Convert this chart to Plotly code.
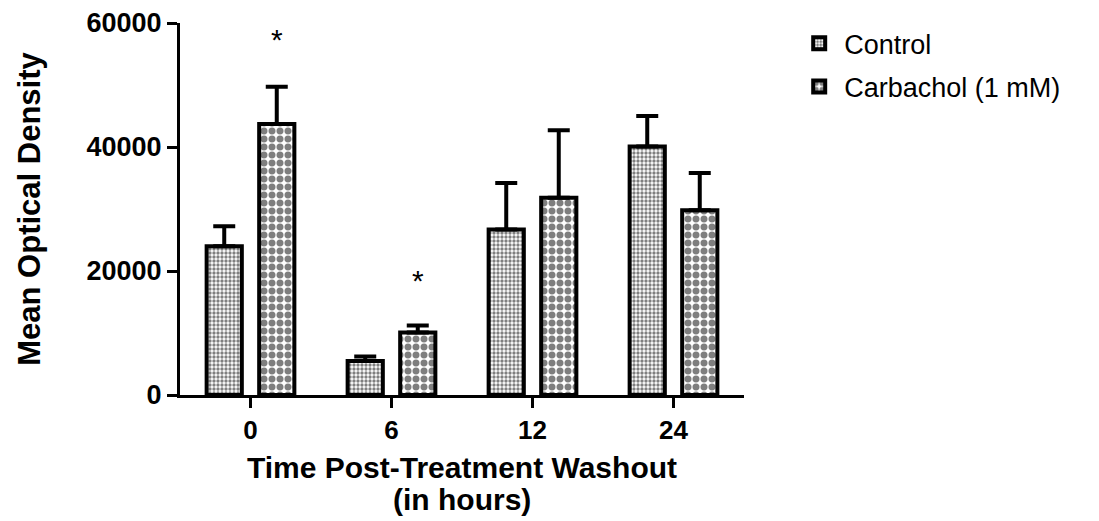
import plotly.graph_objects as go

# ---- data ----
time_labels = ["0", "6", "12", "24"]
control_mean = [24000, 5500, 26700, 40100]
control_sd = [3200, 700, 7500, 4900]
carbachol_mean = [43700, 10100, 31800, 29800]
carbachol_sd = [6000, 1100, 10900, 6000]
asterisk_y = [57300, 18400, None, None]   # significance markers over Carbachol bars
y_ticks = [0, 20000, 40000, 60000]

FONT = "Liberation Sans, Arial, sans-serif"

bargap = 0.255
bargroupgap = 0.33
slot = (1 - bargap) / 2

fig = go.Figure()
fig.add_trace(go.Bar(
    name="Control", x=time_labels, y=control_mean, legendgroup="ctrl",
    marker=dict(color="white", line=dict(color="black", width=4),
                pattern=dict(shape=".", size=4, solidity=0.55,
                             fgcolor="black", bgcolor="white")),
    error_y=dict(type="data", array=control_sd, arrayminus=[0]*4, symmetric=False,
                 color="black", thickness=4, width=11),
))
fig.add_trace(go.Bar(
    name="Carbachol (1 mM)", x=time_labels, y=carbachol_mean, legendgroup="carb",
    marker=dict(color="white", line=dict(color="black", width=4),
                pattern=dict(shape=".", size=8, solidity=0.6,
                             fgcolor="black", bgcolor="white")),
    error_y=dict(type="data", array=carbachol_sd, arrayminus=[0]*4, symmetric=False,
                 color="black", thickness=4, width=11),
))

for i, ay in enumerate(asterisk_y):
    if ay is None:
        continue
    fig.add_annotation(x=i + slot / 2, y=ay, text="*", showarrow=False,
                       xref="x", yref="y", yanchor="middle",
                       font=dict(family=FONT, size=30, color="black"))

# second line of the x-axis title
fig.add_annotation(x=0.5, y=-0.28, xref="paper", yref="paper", text="(in hours)",
                   showarrow=False, yanchor="middle", xanchor="center",
                   font=dict(family=FONT, size=30, weight="bold", color="black"))

fig.update_layout(
    width=1091, height=513,
    margin=dict(l=172, r=355, t=15, b=126, autoexpand=False),
    paper_bgcolor="white", plot_bgcolor="white",
    barmode="group", bargap=bargap, bargroupgap=bargroupgap,
    font=dict(family=FONT, color="black"),
    showlegend=True,
    legend=dict(x=1.089, y=1.01, xanchor="left", yanchor="top",
                font=dict(family=FONT, size=27, color="black"),
                bgcolor="rgba(0,0,0,0)", tracegroupgap=5, itemwidth=40),
)
fig.update_xaxes(
    type="category", range=[-0.5, 3.5], automargin=False,
    showline=True, linecolor="black", linewidth=3,
    ticks="outside", ticklen=10, tickwidth=3, tickcolor="black",
    tickfont=dict(family=FONT, size=26, weight="bold"),
    showgrid=False, zeroline=False,
    title=dict(text="Time Post-Treatment Washout",
               font=dict(family=FONT, size=30, weight="bold"), standoff=13),
)
fig.update_yaxes(
    range=[0, 60000], tickvals=y_ticks, tickformat="d", automargin=False,
    ticklabeloverflow="allow",
    showline=True, linecolor="black", linewidth=3,
    ticks="outside", ticklen=10, tickwidth=3, tickcolor="black",
    tickfont=dict(family=FONT, size=27, weight="bold"),
    showgrid=False, zeroline=False,
    title=dict(text="Mean Optical Density",
               font=dict(family=FONT, size=31, weight="bold"), standoff=37),
)

fig.write_html("out.html")
